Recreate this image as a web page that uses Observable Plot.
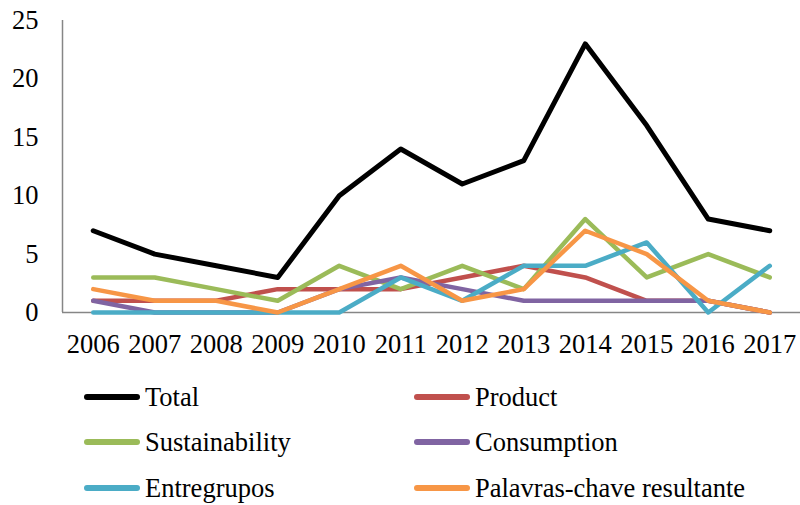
<!DOCTYPE html>
<html>
<head>
<meta charset="utf-8">
<script src="https://cdn.jsdelivr.net/npm/d3@7"></script>
<script src="https://cdn.jsdelivr.net/npm/@observablehq/plot@0.6"></script>
<style>
  html, body { margin: 0; padding: 0; background: #fff; }
  body { width: 800px; height: 505px; overflow: hidden; font-family: "Liberation Serif", "Times New Roman", Times, serif; }
  #chart svg { display: block; }
  #legend { position: relative; height: 145px; }
  .item { position: absolute; display: flex; align-items: center; font-size: 26.5px; line-height: 30px; color: #000; white-space: nowrap; }
  .sw { width: 56px; height: 6px; border-radius: 3px; margin-right: 5px; }
</style>
</head>
<body>
<div id="chart"></div>
<div id="legend"></div>
<script>
// Yearly counts per keyword group
const years = [2006, 2007, 2008, 2009, 2010, 2011, 2012, 2013, 2014, 2015, 2016, 2017];
const total          = [7, 5, 4, 3, 10, 14, 11, 13, 23, 16, 8, 7];
const product        = [1, 1, 1, 2, 2, 2, 3, 4, 3, 1, 1, 0];
const sustainability = [3, 3, 2, 1, 4, 2, 4, 2, 8, 3, 5, 3];
const consumption    = [1, 0, 0, 0, 2, 3, 2, 1, 1, 1, 1, 0];
const entregrupos    = [0, 0, 0, 0, 0, 3, 1, 4, 4, 6, 0, 4];
const palavras       = [2, 1, 1, 0, 2, 4, 1, 2, 7, 5, 1, 0];

const seriesNames  = ["Total", "Product", "Sustainability", "Consumption", "Entregrupos", "Palavras-chave resultante"];
const seriesValues = [total, product, sustainability, consumption, entregrupos, palavras];
const seriesColors = ["#000000", "#C0504D", "#9BBB59", "#8064A2", "#4BACC6", "#F79646"];
const yTicks = [0, 5, 10, 15, 20, 25];

const rows = seriesNames.flatMap((name, i) =>
  years.map((year, j) => ({series: name, year, value: seriesValues[i][j]}))
);

const axisGray = "#868686";
const serif = "'Liberation Serif', 'Times New Roman', Times, serif";

const chart = Plot.plot({
  width: 800,
  height: 362,
  marginLeft: 62,
  marginRight: 0,
  marginTop: 20,
  marginBottom: 50,
  style: {fontFamily: serif, fontSize: "26.5px", color: "#000", background: "#fff"},
  x: {domain: [2005.5, 2017.5], ticks: years, tickFormat: d => String(d), tickSize: 0, tickPadding: 22, label: null},
  y: {domain: [0, 25], ticks: yTicks, tickSize: 0, tickPadding: 24, label: null},
  color: {domain: seriesNames, range: seriesColors},
  marks: [
    Plot.ruleX([2005.5], {y1: 0, y2: 25, stroke: axisGray, strokeWidth: 1.5}),
    Plot.ruleY([0], {stroke: axisGray, strokeWidth: 1.5}),
    Plot.lineY(rows, {
      x: "year", y: "value", z: "series", stroke: "series",
      strokeWidth: d => d.series === "Total" ? 5 : 4.5,
      strokeLinejoin: "round", strokeLinecap: "round"
    })
  ]
});
document.getElementById("chart").appendChild(chart);

// Legend: three rows, two columns, below the plot
const legend = document.getElementById("legend");
const colX = [84, 414];
const rowY = [35, 80, 126];
seriesNames.forEach((name, i) => {
  const item = document.createElement("div");
  item.className = "item";
  item.style.left = colX[i % 2] + "px";
  item.style.top = (rowY[Math.floor(i / 2)] - 15) + "px";
  item.style.height = "30px";
  const sw = document.createElement("span");
  sw.className = "sw";
  sw.style.background = seriesColors[i];
  const label = document.createElement("span");
  label.textContent = name;
  item.appendChild(sw);
  item.appendChild(label);
  legend.appendChild(item);
});
</script>
</body>
</html>
